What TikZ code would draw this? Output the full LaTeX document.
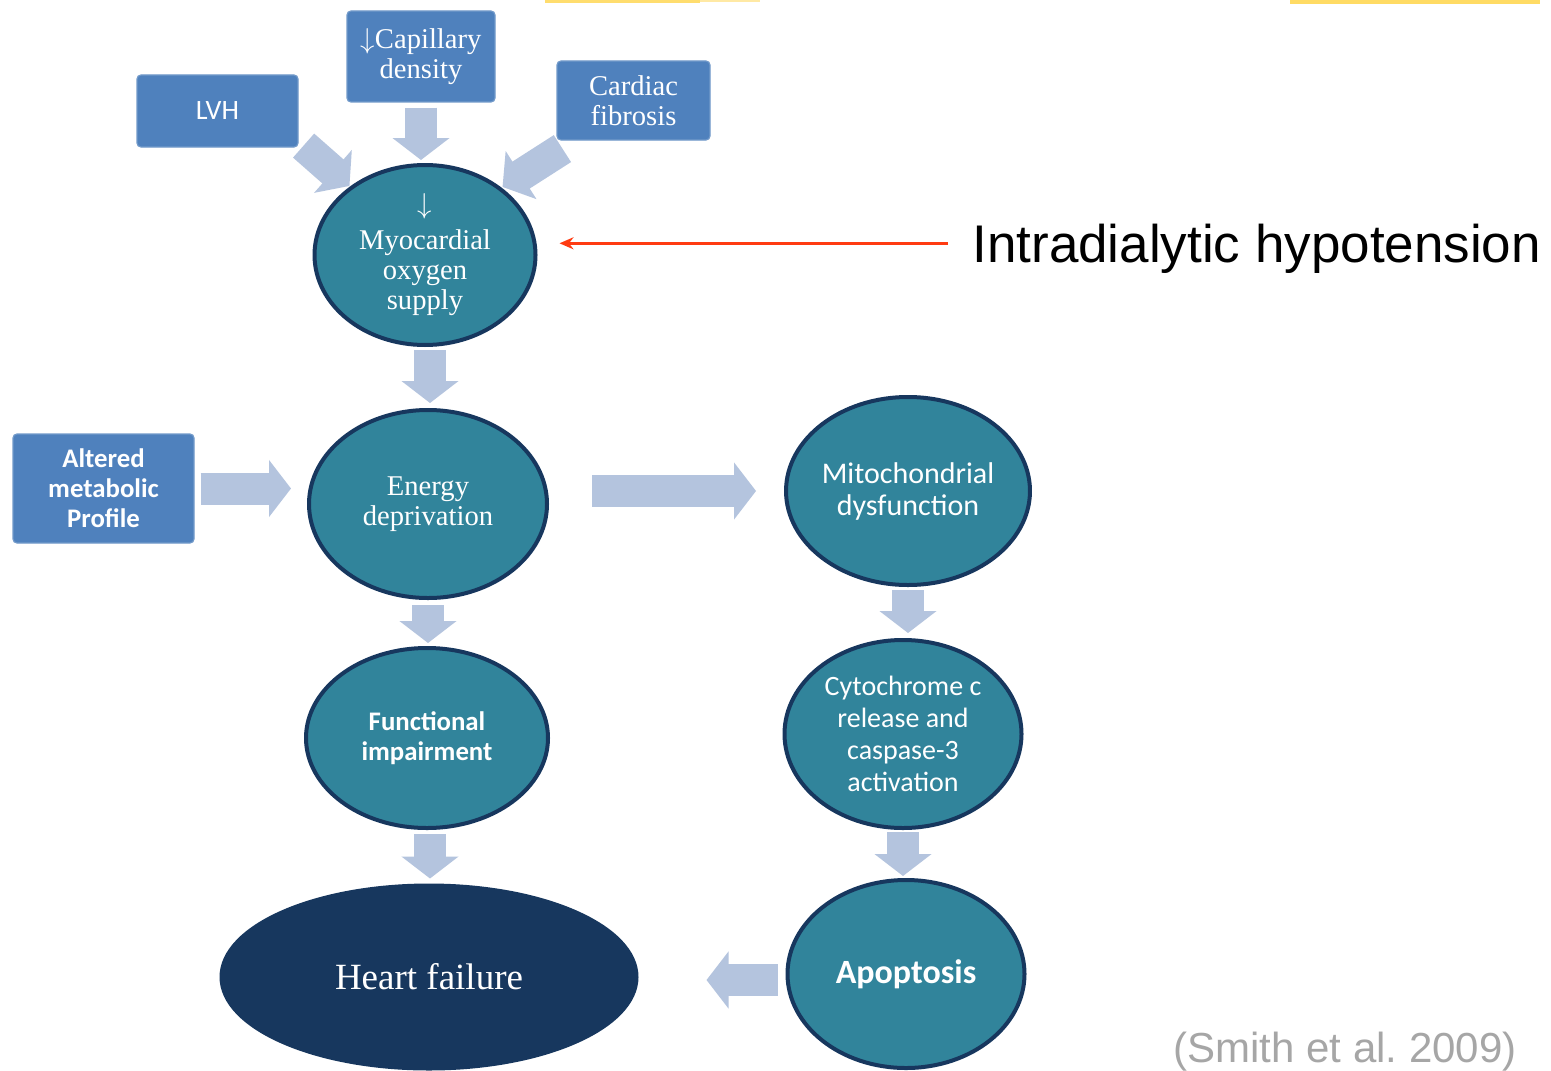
\documentclass[tikz,border=0pt]{standalone}
\usepackage{fontspec}
\setmainfont{Liberation Serif}
\setsansfont{Liberation Sans}
\newfontfamily\calib{Carlito}
\usetikzlibrary{shapes.geometric,arrows.meta,calc}

\definecolor{boxblue}{HTML}{4F81BD}
\definecolor{cellteal}{HTML}{31849B}
\definecolor{rimnavy}{HTML}{17375E}
\definecolor{flowgray}{HTML}{B4C4DE}
\definecolor{pointred}{HTML}{FF3B12}
\definecolor{citegray}{HTML}{A6A6A6}
\definecolor{marker}{HTML}{FFD54A}

\tikzset{
  causebox/.style={rectangle, rounded corners=2pt, fill=boxblue,
    draw=boxblue!80!white, line width=0.6pt, text=white, align=center, inner sep=0pt},
  stage/.style={ellipse, fill=cellteal, draw=rimnavy, line width=2pt,
    text=white, align=center, inner sep=0pt},
  seriftxt/.style={font=\fontsize{14.3}{15}\selectfont},
  caltxt/.style={font=\calib\fontsize{14}{16}\selectfont},
  calbold/.style={font=\calib\bfseries\fontsize{13.4}{15}\selectfont},
  flow/.style={draw=flowgray, line width=16pt, -{Triangle[length=11pt,width=28pt]}},
  pointer/.style={draw=pointred, line width=1.4pt, -{Stealth[length=7pt,width=6pt]}},
}

\begin{document}
\begin{tikzpicture}[x=0.5pt,y=-0.5pt]
  \useasboundingbox (0,0) rectangle (1551,1070);
  \fill[white] (0,0) rectangle (1551,1070);

  % highlighter traces along the top edge
  \fill[marker, opacity=0.8] (545,0) rectangle (700,3);
  \fill[marker, opacity=0.5] (700,0) rectangle (760,2);
  \fill[marker, opacity=0.85] (1290,0) rectangle (1540,4);

  % contributing factors
  \node[causebox, minimum width=80.5pt, minimum height=36pt, caltxt] (lvh) at (217.5,111) {LVH};
  \node[causebox, minimum width=74pt, minimum height=45.5pt, seriftxt] (cap) at (421,56.5)
    {$\downarrow$Capillary\\density};
  \node[causebox, minimum width=76.5pt, minimum height=39.5pt, seriftxt] (card) at (633.5,100.5)
    {Cardiac\\fibrosis};
  \node[causebox, minimum width=90.5pt, minimum height=54.5pt, calbold] (alt) at (103.5,488.5)
    {Altered\\metabolic\\Profile};

  % pathway stages
  \node[stage, minimum width=110.5pt, minimum height=90pt, seriftxt] (myo) at (425,255)
    {$\downarrow$\\[3pt]Myocardial\\oxygen\\supply};
  \node[stage, minimum width=119pt, minimum height=94pt, seriftxt] (energy) at (428,504)
    {Energy\\deprivation};
  \node[stage, minimum width=118.5pt, minimum height=94pt, font=\calib\fontsize{15}{16}\selectfont] (mito) at (908,491)
    {Mitochondrial\\dysfunction};
  \node[stage, minimum width=121pt, minimum height=90pt, calbold] (func) at (427,738)
    {Functional\\impairment};
  \node[stage, minimum width=118.5pt, minimum height=94pt, caltxt] (cyto) at (903,734)
    {Cytochrome c\\release and\\caspase-3\\activation};
  \node[stage, minimum width=118.5pt, minimum height=94pt, font=\calib\bfseries\fontsize{17}{18}\selectfont] (apop) at (906,974)
    {Apoptosis};
  \node[stage, fill=rimnavy, minimum width=207.5pt, minimum height=91.5pt,
    font=\fontsize{18.5}{20}\selectfont] (heart) at (429,977) {Heart failure};

  % broad flow arrows
  \draw[flow] ([shift={(5,-2)}]lvh.south east) -- ([shift={(4,-4)}]myo.north west);
  \draw[flow, shorten <=2.5pt, shorten >=1.5pt] (cap.south) -- (cap.south |- myo.north);
  \draw[flow] ([shift={(6,8)}]card.south west) -- ([shift={(-2,-3)}]myo.north east);
  \draw[flow, shorten <=1.5pt, shorten >=2.5pt] ([shift={(5,0)}]myo.south) -- ([shift={(5,0)}]myo.south |- energy.north);
  \draw[flow, shorten <=3pt, shorten >=8pt] (alt.east) -- (alt.east -| energy.west);
  \draw[flow, shorten <=21.5pt, shorten >=14pt] (mito.west -| energy.east) -- (mito.west);
  \draw[flow, shorten <=2.5pt, shorten >=1.5pt] (energy.south) -- (energy.south |- func.north);
  \draw[flow, shorten <=1.5pt, shorten >=2.5pt] (mito.south) -- (mito.south |- cyto.north);
  \draw[flow, shorten <=2pt, shorten >=2.5pt] ([shift={(3,0)}]func.south) -- ([shift={(3,0)}]func.south |- heart.north);
  \draw[flow, shorten <=1pt, shorten >=1pt] (cyto.south) -- (cyto.south |- apop.north);
  \draw[flow, shorten <=4pt, shorten >=34pt] ([shift={(0,6)}]apop.west) -- ([shift={(0,6)}]apop.west -| heart.east);

  % annotation
  \node[anchor=base west, inner sep=0pt, font=\sffamily\fontsize{26.5}{30}\selectfont] (idh)
    at (972,262) {Intradialytic hypotension};
  \coordinate (ptrtail) at ([shift={(-24,-5)}]idh.west);
  \draw[pointer, shorten >=11pt] (ptrtail) -- (ptrtail -| myo.east);

  \node[anchor=base, inner sep=0pt, text=citegray, font=\sffamily\fontsize{21}{24}\selectfont] (cite)
    at (1345,1062) {(Smith et al.\ 2009)};
\end{tikzpicture}
\end{document}
